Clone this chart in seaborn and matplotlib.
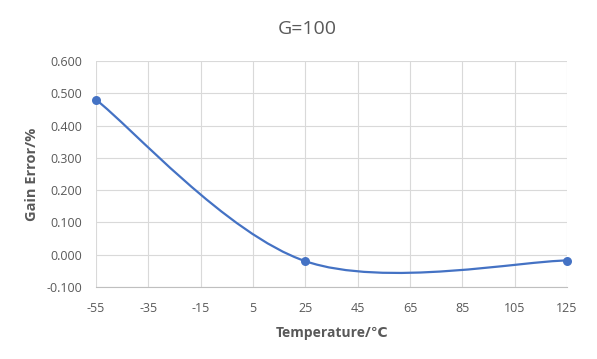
import matplotlib
matplotlib.use("Agg")
import matplotlib.pyplot as plt
import seaborn as sns
import numpy as np
import pandas as pd
from matplotlib.path import Path
from matplotlib.patches import PathPatch

temperature = [-55, 25, 125]
gain_error = [0.48, -0.02, -0.018]
x_ticks = [-55, -35, -15, 5, 25, 45, 65, 85, 105, 125]
y_ticks = [-0.1, 0.0, 0.1, 0.2, 0.3, 0.4, 0.5, 0.6]
title = "G=100"
xlabel = "Temperature/℃"
ylabel = "Gain Error/%"

sns.set_theme(style="white")
plt.rcParams['font.family'] = ['Open Sans', 'DejaVu Sans']

color = "#4472C4"
text_color = "#595959"

fig = plt.figure(figsize=(5.97, 3.59), dpi=100)
ax = fig.add_axes([96/597, 1-287/359, (567-96)/597, (287-61)/359])

df = pd.DataFrame({"t": temperature, "g": gain_error})

# Excel-style smoothed line (cubic Bezier, Catmull-Rom with tension 1/6)
pts = np.column_stack([df["t"].to_numpy(float), df["g"].to_numpy(float)])
n = len(pts)
verts = [pts[0]]
codes = [Path.MOVETO]
for i in range(n - 1):
    p_prev = pts[i - 1] if i > 0 else pts[i]
    p_next = pts[i + 2] if i + 2 < n else pts[i + 1]
    c1 = pts[i] + (pts[i + 1] - p_prev) / 6.0
    c2 = pts[i + 1] - (p_next - pts[i]) / 6.0
    verts += [c1, c2, pts[i + 1]]
    codes += [Path.CURVE4] * 3
ax.add_patch(PathPatch(Path(verts, codes), facecolor="none", edgecolor=color,
                       lw=1.6, zorder=3, capstyle="round", clip_on=False))

sns.scatterplot(data=df, x="t", y="g", ax=ax, color=color, s=42,
                edgecolor=color, linewidth=0, zorder=4, clip_on=False)

ax.set_xlim(-55, 125)
ax.set_ylim(-0.1, 0.6)
ax.set_xticks(x_ticks)
ax.set_yticks(y_ticks)
ax.set_xticklabels([str(v) for v in x_ticks])
ax.set_yticklabels([f"{v:.3f}" for v in y_ticks])
ax.grid(True, color="#D9D9D9", linewidth=0.8)
ax.set_axisbelow(True)
for s in ["top", "right", "left"]:
    ax.spines[s].set_visible(False)
ax.spines["bottom"].set_color("#BFBFBF")
ax.spines["bottom"].set_linewidth(0.8)
ax.tick_params(axis="both", length=0, labelsize=9, labelcolor=text_color)
ax.tick_params(axis="x", pad=11)
ax.tick_params(axis="y", pad=10)

ax.set_xlabel(xlabel, fontsize=10, fontweight="bold", color=text_color, labelpad=8)
ax.set_ylabel(ylabel, fontsize=10.5, fontweight="bold", color=text_color, labelpad=5)
fig.text(307/597, 1-29/359, title, ha="center", va="center",
         fontsize=14, color=text_color)

fig.savefig("out.png", dpi=100, facecolor="white")
